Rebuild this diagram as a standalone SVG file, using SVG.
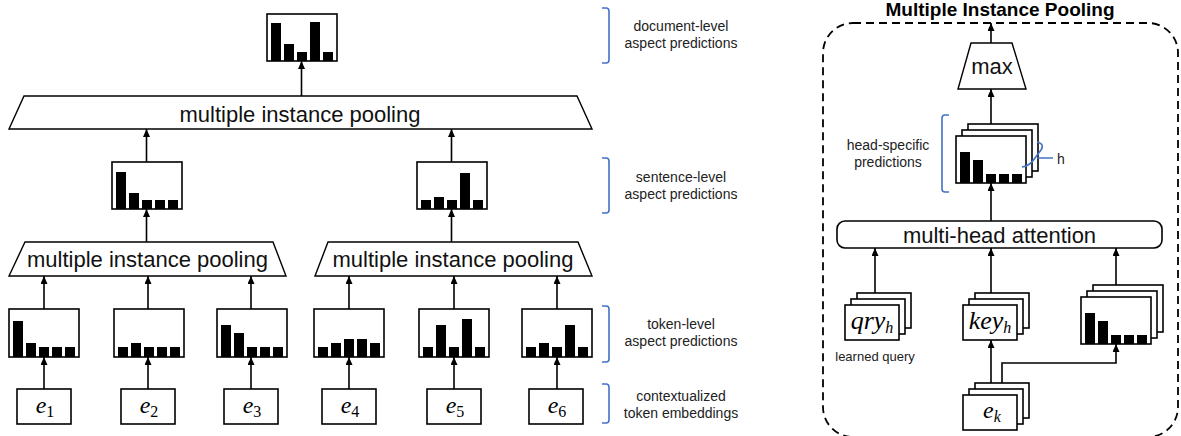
<svg xmlns="http://www.w3.org/2000/svg" width="1181" height="436" viewBox="0 0 1181 436">
<defs>
<marker id="arr" viewBox="0 0 8 7" refX="8" refY="3.5" markerWidth="8" markerHeight="7" orient="auto" markerUnits="userSpaceOnUse"><path d="M0,0 L8,3.5 L0,7 z" fill="#000"/></marker>
</defs>
<style>
.box{fill:#fff;stroke:#000;stroke-width:1.6}
.bar{fill:#000}
.trap{fill:#fff;stroke:#000;stroke-width:1.4}
.big{font-family:"Liberation Sans",Arial,sans-serif;font-size:22px;fill:#111;text-anchor:middle}
.lbl{font-family:"Liberation Sans",Arial,sans-serif;font-size:14px;fill:#222;text-anchor:middle}
.math{font-family:"Liberation Serif","Times New Roman",serif;font-style:italic;font-size:24px;fill:#000;text-anchor:middle}
.sub{font-size:16px}
.up{font-style:normal}
.br{fill:none;stroke:#4472C4;stroke-width:1.6}
.con line,.con path{stroke:#000;stroke-width:1.6;fill:none}
.title{font-family:"Liberation Sans",Arial,sans-serif;font-weight:bold;font-size:19px;fill:#000;text-anchor:middle}
</style>

<!-- left: embeddings -->
<g id="e1"><rect class="box" x="17" y="389" width="54" height="35"/><text class="math" x="45" y="413">e<tspan class="sub up" dy="4">1</tspan></text></g>
<g id="e2"><rect class="box" x="121" y="389" width="54" height="35"/><text class="math" x="149" y="413">e<tspan class="sub up" dy="4">2</tspan></text></g>
<g id="e3"><rect class="box" x="224" y="389" width="54" height="35"/><text class="math" x="252" y="413">e<tspan class="sub up" dy="4">3</tspan></text></g>
<g id="e4"><rect class="box" x="322" y="389" width="54" height="35"/><text class="math" x="350" y="413">e<tspan class="sub up" dy="4">4</tspan></text></g>
<g id="e5"><rect class="box" x="427" y="389" width="54" height="35"/><text class="math" x="455" y="413">e<tspan class="sub up" dy="4">5</tspan></text></g>
<g id="e6"><rect class="box" x="529" y="389" width="54" height="35"/><text class="math" x="557" y="413">e<tspan class="sub up" dy="4">6</tspan></text></g>

<!-- token-level predictions -->
<g id="tok1"><rect class="box" x="9" y="309" width="70" height="48"/>
<rect class="bar" x="13" y="321" width="10" height="36"/><rect class="bar" x="26" y="343" width="10" height="14"/><rect class="bar" x="39" y="347" width="10" height="10"/><rect class="bar" x="52" y="347" width="10" height="10"/><rect class="bar" x="65" y="347" width="10" height="10"/></g>
<g id="tok2"><rect class="box" x="114" y="309" width="70" height="48"/>
<rect class="bar" x="118" y="347" width="10" height="10"/><rect class="bar" x="131" y="343" width="10" height="14"/><rect class="bar" x="144" y="347" width="10" height="10"/><rect class="bar" x="157" y="347" width="10" height="10"/><rect class="bar" x="170" y="347" width="10" height="10"/></g>
<g id="tok3"><rect class="box" x="217" y="309" width="70" height="48"/>
<rect class="bar" x="221" y="325" width="10" height="32"/><rect class="bar" x="234" y="333" width="10" height="24"/><rect class="bar" x="247" y="347" width="10" height="10"/><rect class="bar" x="260" y="347" width="10" height="10"/><rect class="bar" x="273" y="347" width="10" height="10"/></g>
<g id="tok4"><rect class="box" x="314" y="309" width="70" height="48"/>
<rect class="bar" x="318" y="347" width="10" height="10"/><rect class="bar" x="331" y="343" width="10" height="14"/><rect class="bar" x="344" y="339" width="10" height="18"/><rect class="bar" x="357" y="339" width="10" height="18"/><rect class="bar" x="370" y="343" width="10" height="14"/></g>
<g id="tok5"><rect class="box" x="419" y="309" width="70" height="48"/>
<rect class="bar" x="423" y="347" width="10" height="10"/><rect class="bar" x="436" y="325" width="10" height="32"/><rect class="bar" x="449" y="347" width="10" height="10"/><rect class="bar" x="462" y="319" width="10" height="38"/><rect class="bar" x="475" y="347" width="10" height="10"/></g>
<g id="tok6"><rect class="box" x="522" y="309" width="70" height="48"/>
<rect class="bar" x="526" y="347" width="10" height="10"/><rect class="bar" x="539" y="343" width="10" height="14"/><rect class="bar" x="552" y="347" width="10" height="10"/><rect class="bar" x="565" y="325" width="10" height="32"/><rect class="bar" x="578" y="347" width="10" height="10"/></g>

<!-- mid pooling -->
<g id="pool1"><polygon class="trap" points="25,242 273,242 286,276 9,276"/><text class="big" x="147.5" y="267">multiple instance pooling</text></g>
<g id="pool2"><polygon class="trap" points="328,242 578,242 592,276 315,276"/><text class="big" x="453" y="267">multiple instance pooling</text></g>

<!-- sentence-level -->
<g id="sent1"><rect class="box" x="112" y="162" width="70" height="47"/>
<rect class="bar" x="116" y="172" width="10" height="37"/><rect class="bar" x="129" y="193" width="10" height="16"/><rect class="bar" x="142" y="200" width="10" height="9"/><rect class="bar" x="155" y="200" width="10" height="9"/><rect class="bar" x="168" y="200" width="10" height="9"/></g>
<g id="sent2"><rect class="box" x="417" y="162" width="70" height="47"/>
<rect class="bar" x="421" y="200" width="10" height="9"/><rect class="bar" x="434" y="197" width="10" height="12"/><rect class="bar" x="447" y="200" width="10" height="9"/><rect class="bar" x="460" y="173" width="10" height="36"/><rect class="bar" x="473" y="200" width="10" height="9"/></g>

<!-- top pooling -->
<g id="pool3"><polygon class="trap" points="24,96 577,96 592,129 9,129"/><text class="big" x="300" y="122">multiple instance pooling</text></g>

<!-- document-level -->
<g id="doc"><rect class="box" x="267" y="14" width="70" height="47"/>
<rect class="bar" x="271" y="23" width="10" height="38"/><rect class="bar" x="284" y="44" width="10" height="17"/><rect class="bar" x="297" y="52" width="10" height="9"/><rect class="bar" x="310" y="22" width="10" height="39"/><rect class="bar" x="323" y="52" width="10" height="9"/></g>

<!-- level labels -->
<g id="lbl-doc"><path class="br" d="M602,8 H606 Q609,8 609,11 V60 Q609,63 606,63 H602"/><text class="lbl" x="681" y="31">document-level</text><text class="lbl" x="681" y="48">aspect predictions</text></g>
<g id="lbl-sent"><path class="br" d="M602,158 H606 Q609,158 609,161 V210 Q609,213 606,213 H602"/><text class="lbl" x="681" y="182">sentence-level</text><text class="lbl" x="681" y="199">aspect predictions</text></g>
<g id="lbl-tok"><path class="br" d="M602,306 H606 Q609,306 609,309 V359 Q609,362 606,362 H602"/><text class="lbl" x="681" y="329">token-level</text><text class="lbl" x="681" y="346">aspect predictions</text></g>
<g id="lbl-emb"><path class="br" d="M602,384 H606 Q609,384 609,387 V420 Q609,423 606,423 H602"/><text class="lbl" x="681" y="401">contextualized</text><text class="lbl" x="681" y="418">token embeddings</text></g>

<!-- right panel -->
<g id="mip-frame"><text class="title" x="1000" y="16">Multiple Instance Pooling</text>
<rect x="823" y="23" width="355" height="414" rx="30" ry="30" fill="none" stroke="#000" stroke-width="1.8" stroke-dasharray="8 5"/></g>

<g id="max"><polygon class="trap" points="971,43 1012,43 1026,89 958,89"/><text class="big" x="992" y="74">max</text></g>

<g id="heads"><rect class="box" x="968" y="124" width="70" height="47"/><rect class="box" x="962" y="130" width="70" height="47"/><rect class="box" x="956" y="136" width="70" height="47"/>
<rect class="bar" x="960" y="152" width="10" height="31"/><rect class="bar" x="973" y="160" width="10" height="23"/><rect class="bar" x="986" y="174" width="10" height="9"/><rect class="bar" x="999" y="174" width="10" height="9"/><rect class="bar" x="1012" y="174" width="10" height="9"/>
<path class="br" d="M949,115 H945 Q942,115 942,118 V189 Q942,192 945,192 H949"/>
<text class="lbl" x="888" y="150">head-specific</text><text class="lbl" x="888" y="167">predictions</text>
<path class="br" d="M1037,142 Q1045,144 1041,150 L1035,158 Q1030,166 1022,167 M1037,158 H1053"/>
<text class="lbl" x="1061" y="164">h</text></g>

<g id="mha"><rect class="box" x="837" y="221" width="325" height="27" rx="8" ry="8"/><text class="big" x="999.5" y="243">multi-head attention</text></g>

<g id="qry"><rect class="box" x="857" y="293" width="54" height="35"/><rect class="box" x="851" y="299" width="54" height="35"/><rect class="box" x="845" y="305" width="54" height="35"/>
<text class="math" x="872" y="329" style="font-size:26px">qry<tspan class="sub" dy="4">h</tspan></text>
<text class="lbl" x="875" y="361" style="font-size:13px">learned query</text></g>

<g id="key"><rect class="box" x="975" y="293" width="54" height="35"/><rect class="box" x="969" y="299" width="54" height="35"/><rect class="box" x="963" y="305" width="54" height="35"/>
<text class="math" x="990" y="329" style="font-size:26px">key<tspan class="sub" dy="4">h</tspan></text></g>

<g id="vals"><rect class="box" x="1093" y="285" width="70" height="47"/><rect class="box" x="1087" y="291" width="70" height="47"/><rect class="box" x="1081" y="297" width="70" height="47"/>
<rect class="bar" x="1085" y="313" width="10" height="31"/><rect class="bar" x="1098" y="321" width="10" height="23"/><rect class="bar" x="1111" y="335" width="10" height="9"/><rect class="bar" x="1124" y="335" width="10" height="9"/><rect class="bar" x="1137" y="335" width="10" height="9"/></g>

<g id="ek"><rect class="box" x="975" y="383" width="54" height="35"/><rect class="box" x="969" y="389" width="54" height="35"/><rect class="box" x="963" y="395" width="54" height="35"/>
<text class="math" x="992" y="418">e<tspan class="sub" dy="4">k</tspan></text></g>

<!-- connectors -->
<g id="connectors" class="con">
<line x1="44" y1="389" x2="44" y2="357" marker-end="url(#arr)"/>
<line x1="148" y1="389" x2="148" y2="357" marker-end="url(#arr)"/>
<line x1="251" y1="389" x2="251" y2="357" marker-end="url(#arr)"/>
<line x1="349" y1="389" x2="349" y2="357" marker-end="url(#arr)"/>
<line x1="454" y1="389" x2="454" y2="357" marker-end="url(#arr)"/>
<line x1="557" y1="389" x2="557" y2="357" marker-end="url(#arr)"/>
<line x1="44" y1="309" x2="44" y2="276" marker-end="url(#arr)"/>
<line x1="148" y1="309" x2="148" y2="276" marker-end="url(#arr)"/>
<line x1="251" y1="309" x2="251" y2="276" marker-end="url(#arr)"/>
<line x1="349" y1="309" x2="349" y2="276" marker-end="url(#arr)"/>
<line x1="454" y1="309" x2="454" y2="276" marker-end="url(#arr)"/>
<line x1="557" y1="309" x2="557" y2="276" marker-end="url(#arr)"/>
<line x1="146.5" y1="242" x2="146.5" y2="209" marker-end="url(#arr)"/>
<line x1="451.5" y1="242" x2="451.5" y2="209" marker-end="url(#arr)"/>
<line x1="146.5" y1="162" x2="146.5" y2="129" marker-end="url(#arr)"/>
<line x1="451.5" y1="162" x2="451.5" y2="129" marker-end="url(#arr)"/>
<line x1="301.5" y1="96" x2="301.5" y2="61" marker-end="url(#arr)"/>
<line x1="991" y1="43" x2="991" y2="23" marker-end="url(#arr)"/>
<line x1="991" y1="124" x2="991" y2="89" marker-end="url(#arr)"/>
<line x1="991" y1="221" x2="991" y2="183" marker-end="url(#arr)"/>
<line x1="875" y1="293" x2="875" y2="248" marker-end="url(#arr)"/>
<line x1="991" y1="293" x2="991" y2="248" marker-end="url(#arr)"/>
<line x1="1116" y1="285" x2="1116" y2="248" marker-end="url(#arr)"/>
<line x1="991" y1="383" x2="991" y2="340" marker-end="url(#arr)"/>
<path d="M1002,383 V363 H1116 V344" marker-end="url(#arr)"/>
</g>
</svg>
